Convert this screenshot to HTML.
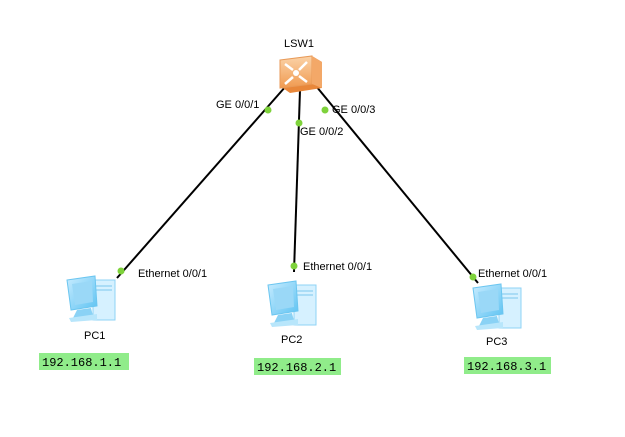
<!DOCTYPE html>
<html><head><meta charset="utf-8"><style>
html,body{margin:0;padding:0;background:#fff;}
svg{display:block;}
text{font-family:"Liberation Sans",sans-serif;font-size:11px;fill:#000;}
.ip{font-family:"Liberation Mono",monospace;font-size:12px;}
</style></head><body>
<svg width="625" height="437" viewBox="0 0 625 437" xmlns="http://www.w3.org/2000/svg">
<defs>
<linearGradient id="sw" x1="0" y1="0" x2="0" y2="1">
<stop offset="0" stop-color="#fbd3a8"/><stop offset="1" stop-color="#f09a50"/></linearGradient>
<linearGradient id="scr" x1="0" y1="0" x2="1" y2="1">
<stop offset="0" stop-color="#c8ecff"/><stop offset="1" stop-color="#5fc3f2"/></linearGradient>
<g id="pc">
<rect x="30" y="6" width="22" height="40" fill="#d6f1ff" stroke="#8fd3f5"/>
<line x1="33" y1="12" x2="49" y2="12" stroke="#7cc8ee"/>
<line x1="33" y1="16" x2="49" y2="16" stroke="#7cc8ee"/>
<polygon points="4,6 32,2 34,32 8,36" fill="url(#scr)" stroke="#6cc6f0"/>
<polygon points="9,10 29,7 30,28 12,31" fill="#9ad8f7"/>
<polygon points="14,36 28,34 30,42 10,44" fill="#8ad2f5"/>
<polygon points="6,44 34,40 34,46 8,48" fill="#b8e6fb"/>
</g>
</defs>
<g stroke="#000" stroke-width="2" fill="none">
<line x1="286" y1="86" x2="117" y2="278"/>
<line x1="300" y1="90" x2="294" y2="272"/>
<line x1="316" y1="86" x2="478" y2="283"/>
</g>
<g fill="#7ed23b">
<circle cx="268" cy="110" r="3.5"/><circle cx="121" cy="271" r="3.5"/>
<circle cx="299" cy="123" r="3.5"/><circle cx="294" cy="266" r="3.5"/>
<circle cx="325" cy="110" r="3.5"/><circle cx="473" cy="277" r="3.5"/>
</g>
<!-- switch -->
<polygon points="280,60 312,56 322,62 322,88 290,93 280,86" fill="#e8873a"/>
<polygon points="280,60 312,56 312,84 280,88" fill="url(#sw)" stroke="#e89a58"/>
<polygon points="312,56 322,62 322,88 312,84" fill="#f3a868"/>
<g stroke="#fff" stroke-width="2.5" fill="none">
<line x1="285" y1="64" x2="293" y2="70"/><line x1="307" y1="62" x2="299" y2="70"/>
<line x1="285" y1="84" x2="293" y2="77"/><line x1="307" y1="82" x2="299" y2="76"/>
</g>
<circle cx="296" cy="73" r="3" fill="#fff"/>
<text x="284" y="47" font-size="12">LSW1</text>
<text x="216" y="108">GE 0/0/1</text>
<text x="300" y="135">GE 0/0/2</text>
<text x="332" y="113">GE 0/0/3</text>
<text x="138" y="277">Ethernet 0/0/1</text>
<text x="303" y="270">Ethernet 0/0/1</text>
<text x="478" y="277">Ethernet 0/0/1</text>
<use href="#pc" x="63" y="274"/>
<use href="#pc" x="264" y="279"/>
<use href="#pc" x="469" y="282"/>
<text x="84" y="339" font-size="12">PC1</text>
<text x="281" y="343" font-size="12">PC2</text>
<text x="486" y="345" font-size="12">PC3</text>
<rect x="39" y="353" width="90" height="17" fill="#90ec8a"/>
<rect x="254" y="358" width="87" height="17" fill="#90ec8a"/>
<rect x="464" y="357" width="87" height="17" fill="#90ec8a"/>
<text class="ip" x="42" y="366">192.168.1.1</text>
<text class="ip" x="257" y="371">192.168.2.1</text>
<text class="ip" x="467" y="370">192.168.3.1</text>
</svg>
</body></html>
